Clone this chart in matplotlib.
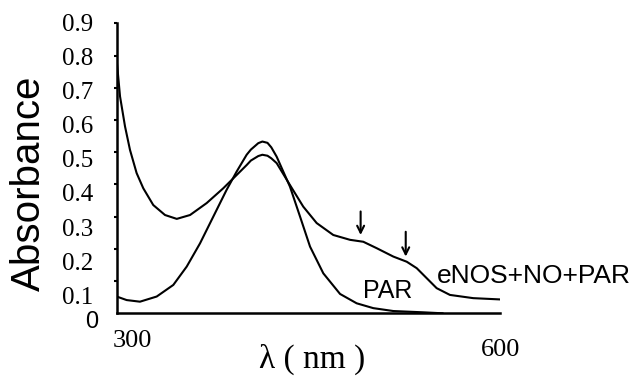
import matplotlib
matplotlib.use('Agg')
import matplotlib.pyplot as plt
import matplotlib.transforms as mtransforms

# spectra (wavelength in nm, absorbance)
wl_enos = [300, 302.6, 306.5, 310.4, 315.6, 320.8, 328.6, 337.8, 347, 357.4,
           370.4, 383.4, 391.3, 401.7, 405, 410.8, 414, 418, 421, 425.2,
           435.6, 446, 456.5, 469.5, 482.6, 493, 503.5, 516.5, 527, 534.8,
           542.6, 550.4, 560.8, 579, 600]
abs_enos = [0.785, 0.673, 0.58, 0.507, 0.435, 0.388, 0.336, 0.305, 0.293, 0.305,
            0.342, 0.388, 0.419, 0.46, 0.474, 0.488, 0.492, 0.489, 0.481, 0.466,
            0.398, 0.331, 0.28, 0.243, 0.228, 0.222, 0.202, 0.176, 0.16, 0.14,
            0.109, 0.078, 0.057, 0.047, 0.043]

wl_par = [300, 307.8, 318.2, 331.3, 344.3, 354.8, 365.2, 375.6, 386, 393.9,
          401.7, 405, 410.8, 414, 418, 421, 425.2, 435.6, 443.5, 451.3,
          461.7, 474.8, 487.8, 500.8, 516.5, 540, 555]
abs_par = [0.052, 0.041, 0.036, 0.052, 0.088, 0.145, 0.217, 0.30, 0.383, 0.44,
           0.492, 0.508, 0.528, 0.533, 0.529, 0.515, 0.486, 0.393, 0.30, 0.207,
           0.124, 0.06, 0.031, 0.016, 0.007, 0.003, 0.0]

y_ticks = [0.1, 0.2, 0.3, 0.4, 0.5, 0.6, 0.7, 0.8, 0.9]
y_labels = ['0.1', '0.2', '0.3', '0.4', '0.5', '0.6', '0.7', '0.8', '0.9']

# arrows marking the two shoulders: (wavelength, tail, tip)
arrow_wl = [490.9, 526.2]
arrow_tail = [0.316, 0.253]
arrow_tip = [0.243, 0.176]

SERIF = 'Liberation Serif'
SANS = 'Liberation Sans'

fig = plt.figure(figsize=(6.36, 3.77), dpi=100)
ax = fig.add_axes([0.1835, 0.169, 0.6027, 0.7692])

ax.plot(wl_enos, abs_enos, color='black', lw=1.5, solid_joinstyle='round')
ax.plot(wl_par, abs_par, color='black', lw=1.5, solid_joinstyle='round')

for w, t0, t1 in zip(arrow_wl, arrow_tail, arrow_tip):
    ax.annotate('', xy=(w, t1), xytext=(w, t0),
                arrowprops=dict(arrowstyle='->,head_length=0.5,head_width=0.25',
                                color='black', lw=1.5, shrinkA=0, shrinkB=0))

ax.set_xlim(300, 600)
ax.set_ylim(0, 0.9)
for s in ['top', 'right']:
    ax.spines[s].set_visible(False)
ax.spines['left'].set_linewidth(1.8)
ax.spines['bottom'].set_linewidth(1.8)
ax.set_xticks([])
ax.set_yticks(y_ticks)
ax.set_yticklabels([])
ax.tick_params(axis='y', direction='out', length=2.5, width=1.5)

# the tick labels in the original sit in a slightly taller column than the ticks
trans = mtransforms.blended_transform_factory(ax.transAxes, ax.transData)
for v, lab in zip(y_ticks, y_labels):
    ax.text(-0.062, 1.059 * v - 0.058, lab, transform=trans, ha='right', va='center',
            fontsize=18, family=SERIF)
ax.text(-0.065, -0.027, '0', transform=trans, ha='center', va='center',
        fontsize=17, family=SANS, clip_on=False)

fig.text(0.0456, 0.513, 'Absorbance', rotation=90, ha='center', va='center',
         fontsize=29, family=SANS)
fig.text(0.490, 0.024, 'λ ( nm )', ha='center', va='baseline', fontsize=24, family=SERIF)
fig.text(0.2083, 0.0955, '300', ha='center', va='center', fontsize=19, family=SERIF)
fig.text(0.7877, 0.0716, '600', ha='center', va='center', fontsize=19, family=SERIF)

ax.text(512, 0.069, 'PAR', ha='center', va='center', fontsize=18, family=SANS)
ax.text(550.4, 0.116, 'eNOS+NO+PAR', ha='left', va='center', fontsize=19,
        family=SANS, clip_on=False)

fig.savefig('out.png', dpi=100)
